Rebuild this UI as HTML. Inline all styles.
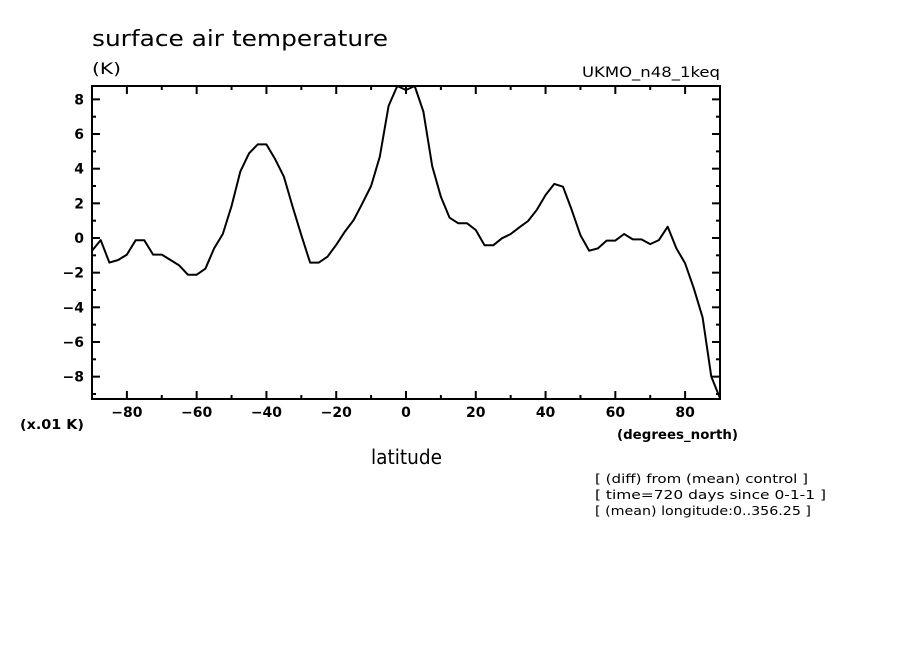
<!DOCTYPE html>
<html><head><meta charset="utf-8"><style>
html,body{margin:0;padding:0;background:#fff;}
svg text{font-family:"DejaVu Sans","Liberation Sans",sans-serif;fill:#000;}
</style></head><body>
<svg id="chart" width="904" height="654" xmlns="http://www.w3.org/2000/svg">
<text x="92" y="46" font-size="22" textLength="296" lengthAdjust="spacingAndGlyphs">surface air temperature</text>
<text x="92" y="74" font-size="16" textLength="29" lengthAdjust="spacingAndGlyphs">(K)</text>
<text x="582" y="77" font-size="14" textLength="138" lengthAdjust="spacingAndGlyphs">UKMO_n48_1keq</text>
<text x="20" y="429" font-size="13" font-weight="bold" textLength="64" lengthAdjust="spacingAndGlyphs">(x.01 K)</text>
<text x="617" y="439" font-size="13" font-weight="bold" textLength="121" lengthAdjust="spacingAndGlyphs">(degrees_north)</text>
<text x="371" y="464" font-size="20" textLength="71" lengthAdjust="spacingAndGlyphs">latitude</text>
<text x="595" y="483" font-size="12" textLength="213" lengthAdjust="spacingAndGlyphs">[ (diff) from (mean) control ]</text>
<text x="595" y="499" font-size="12" textLength="231" lengthAdjust="spacingAndGlyphs">[ time=720 days since 0-1-1 ]</text>
<text x="595" y="515" font-size="12" textLength="216" lengthAdjust="spacingAndGlyphs">[ (mean) longitude:0..356.25 ]</text>
<g id="axes"></g>
<path id="series" fill="none" stroke="#000" stroke-width="2" stroke-linejoin="round"></path>
<rect x="92" y="86" width="628" height="313" fill="none" stroke="#000" stroke-width="2"></rect>
</svg>
<script>
const lats = [-90,-87.5,-85,-82.5,-80,-77.5,-75,-72.5,-70,-67.5,-65,-62.5,-60,-57.5,-55,-52.5,-50,-47.5,-45,-42.5,-40,-37.5,-35,-32.5,-30,-27.5,-25,-22.5,-20,-17.5,-15,-12.5,-10,-7.5,-5,-2.5,0,2.5,5,7.5,10,12.5,15,17.5,20,22.5,25,27.5,30,32.5,35,37.5,40,42.5,45,47.5,50,52.5,55,57.5,60,62.5,65,67.5,70,72.5,75,77.5,80,82.5,85,87.5,90];
const temps = [-0.73,-0.12,-1.42,-1.27,-0.96,-0.13,-0.13,-0.96,-0.96,-1.27,-1.58,-2.12,-2.12,-1.77,-0.6,0.23,1.85,3.83,4.88,5.4,5.4,4.54,3.54,1.81,0.17,-1.42,-1.42,-1.08,-0.4,0.37,1.04,2.0,3.0,4.69,7.62,8.77,8.54,8.77,7.29,4.15,2.38,1.17,0.85,0.85,0.46,-0.42,-0.42,-0.02,0.23,0.62,0.98,1.62,2.48,3.12,2.96,1.62,0.17,-0.73,-0.6,-0.15,-0.15,0.23,-0.08,-0.08,-0.35,-0.12,0.65,-0.6,-1.46,-2.9,-4.58,-8.0,-9.25];
const xTicks = [-80,-60,-40,-20,0,20,40,60,80];
const xTickLabels = ["\u221280","\u221260","\u221240","\u221220","0","20","40","60","80"];
const yTicks = [-8,-6,-4,-2,0,2,4,6,8];
const yTickLabels = ["\u22128","\u22126","\u22124","\u22122","0","2","4","6","8"];
const X0=92,X1=720,Y0=399,Y1=86;
function xs(v){return X0+(v+90)/180*(X1-X0);}
function ys(v){return 238-v*17.33;}
const NS='http://www.w3.org/2000/svg';
const ax=document.getElementById('axes');
function line(x1,y1,x2,y2,name){const l=document.createElementNS(NS,'line');l.setAttribute('x1',x1);l.setAttribute('y1',y1);l.setAttribute('x2',x2);l.setAttribute('y2',y2);l.setAttribute('stroke','#000');l.setAttribute('stroke-width','2');


ax.appendChild(l);}
for(let v=-80;v<=80;v+=10){const x=xs(v);const L=(v%20===0)?8:4;line(x,Y0,x,Y0-L,'x-tick');line(x,Y1,x,Y1+L,'x-tick-top');}
for(let v=-9;v<=8;v+=1){const y=ys(v);const L=(v%2===0)?8:4;line(X0,y,X0+L,y,'y-tick');line(X1,y,X1-L,y,'y-tick-right');}
xTicks.forEach((v,i)=>{const t=document.createElementNS(NS,'text');t.setAttribute('x',xs(v));t.setAttribute('y',417);t.setAttribute('font-size','14');t.setAttribute('font-weight','bold');t.setAttribute('text-anchor','middle');t.textContent=xTickLabels[i];


ax.appendChild(t);});
yTicks.forEach((v,i)=>{const t=document.createElementNS(NS,'text');t.setAttribute('x',84);t.setAttribute('y',ys(v)+5);t.setAttribute('font-size','14');t.setAttribute('font-weight','bold');t.setAttribute('text-anchor','end');t.textContent=yTickLabels[i];


ax.appendChild(t);});
document.getElementById('series').setAttribute('d',lats.map((v,i)=>(i?'L':'M')+xs(v).toFixed(1)+','+ys(temps[i]).toFixed(1)).join(' '));
</script>
</body></html>
